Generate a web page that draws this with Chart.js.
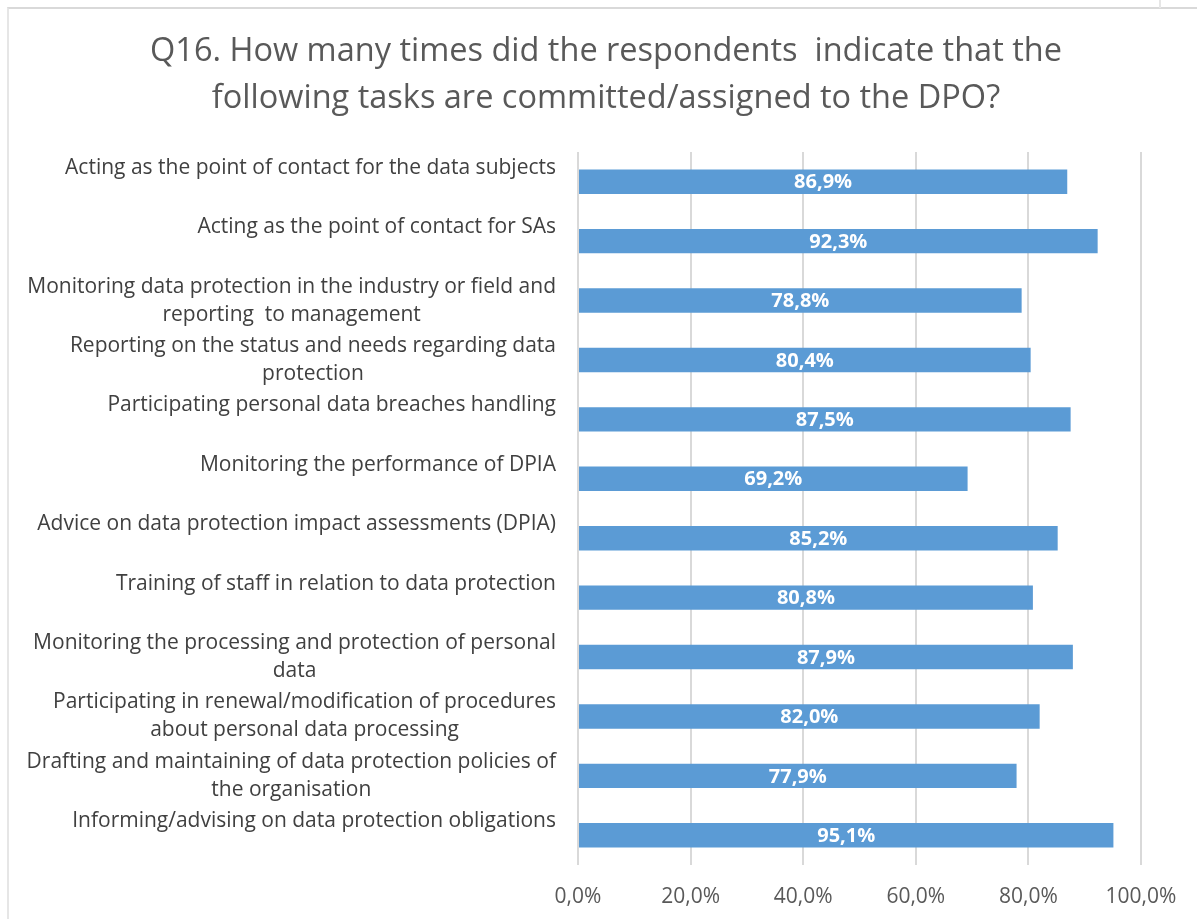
<!DOCTYPE html>
<html>
<head>
<meta charset="utf-8">
<script src="https://cdn.jsdelivr.net/npm/chart.js@4.4.0/dist/chart.umd.min.js"></script>
<style>
  html, body { margin: 0; padding: 0; background: #fff; }
  #frame { position: absolute; left: 0; top: 0; width: 1197px; height: 919px; }
  #edge { position: absolute; left: 7px; top: 7px; width: 1190px; height: 912px;
          border-top: 2px solid #d9d9d9; border-left: 2px solid #e6e6e6; }
  #notch { position: absolute; left: 1159px; top: 0; width: 0; height: 8px;
           border-left: 2px solid #e6e6e6; }
  canvas { position: absolute; left: 0; top: 0; }
</style>
</head>
<body>
<div id="frame">
  <div id="edge"></div>
  <div id="notch"></div>
  <canvas id="myChart" width="1197" height="919"></canvas>
</div>
<script>
// chart data
var titleLines = ["Q16. How many times did the respondents  indicate that the",
                  "following tasks are committed/assigned to the DPO?"];

var tasks = [
  ["Acting as the point of contact for the data subjects"],
  ["Acting as the point of contact for SAs"],
  ["Monitoring data protection in the industry or field and", "reporting  to management"],
  ["Reporting on the status and needs regarding data", "protection"],
  ["Participating personal data breaches handling"],
  ["Monitoring the performance of DPIA"],
  ["Advice on data protection impact assessments (DPIA)"],
  ["Training of staff in relation to data protection"],
  ["Monitoring the processing and protection of personal", "data"],
  ["Participating in renewal/modification of procedures", "about personal data processing"],
  ["Drafting and maintaining of data protection policies of", "the organisation"],
  ["Informing/advising on data protection obligations"]
];

var shares = [86.9, 92.3, 78.8, 80.4, 87.5, 69.2, 85.2, 80.8, 87.9, 82.0, 77.9, 95.1];

var axisTicks = [0, 20, 40, 60, 80, 100];

var FONT = "'Open Sans', Lato, sans-serif";

function pct(v) {
  return v.toFixed(1).replace('.', ',') + '%';
}

// title, centred a bit right of the canvas middle like the original
var chartTitle = {
  id: 'chartTitle',
  afterDraw: function (chart) {
    var ctx = chart.ctx;
    ctx.save();
    ctx.font = '32.5px ' + FONT;
    ctx.fillStyle = '#595959';
    ctx.textAlign = 'center';
    ctx.textBaseline = 'middle';
    titleLines.forEach(function (l, k) {
      ctx.fillText(l, 606, 52 + k * 47);
    });
    ctx.restore();
  }
};

// task names on the left: lines centered to each other, block right aligned
var taskLabels = {
  id: 'taskLabels',
  afterDraw: function (chart) {
    var ctx = chart.ctx, y = chart.scales.y;
    ctx.save();
    ctx.font = '21px ' + FONT;
    ctx.fillStyle = '#404040';
    ctx.textAlign = 'center';
    ctx.textBaseline = 'middle';
    tasks.forEach(function (lines, i) {
      var w = 0;
      lines.forEach(function (l) { w = Math.max(w, ctx.measureText(l).width); });
      var cx = 556 - w / 2;
      var cy = y.getPixelForValue(i);
      lines.forEach(function (l, k) {
        ctx.fillText(l, cx, cy - 14 + k * 28);
      });
    });
    ctx.restore();
  }
};

// value labels inside the bars
var barValues = {
  id: 'barValues',
  afterDatasetsDraw: function (chart) {
    var ctx = chart.ctx;
    var meta = chart.getDatasetMeta(0);
    ctx.save();
    ctx.font = 'bold 20px ' + FONT;
    ctx.fillStyle = '#ffffff';
    ctx.textAlign = 'center';
    ctx.textBaseline = 'middle';
    meta.data.forEach(function (bar, i) {
      ctx.fillText(pct(shares[i]), (bar.x + bar.base) / 2, bar.y + 1);
    });
    ctx.restore();
  }
};

var data = {
  labels: tasks.map(function (t) { return t.join(' '); }),
  datasets: [{
    data: shares,
    backgroundColor: '#5b9bd5',
    borderWidth: 0,
    barPercentage: 0.41,
    categoryPercentage: 1
  }]
};

var config = {
  type: 'bar',
  data: data,
  options: {
    indexAxis: 'y',
    responsive: false,
    animation: false,
    layout: { padding: { top: 152, right: 56, bottom: 0, left: 0 } },
    plugins: {
      legend: { display: false },
      tooltip: { enabled: false },
      title: { display: false }
    },
    scales: {
      x: {
        min: 0,
        max: 100,
        afterBuildTicks: function (s) {
          s.ticks = axisTicks.map(function (v) { return { value: v }; });
        },
        afterFit: function (s) { s.height = 54; },
        border: { display: false },
        grid: { color: '#d9d9d9', lineWidth: 2, drawTicks: false },
        ticks: {
          padding: 19,
          maxRotation: 0,
          color: '#595959',
          font: { family: FONT, size: 21 },
          callback: function (v) { return pct(v); }
        }
      },
      y: {
        border: { display: false },
        grid: { display: false, drawTicks: false },
        ticks: { display: false },
        afterFit: function (s) { s.width = 578; }
      }
    }
  },
  plugins: [chartTitle, taskLabels, barValues]
};

var ctx = document.getElementById('myChart').getContext('2d');
var chart = new Chart(ctx, config);
</script>
</body>
</html>
